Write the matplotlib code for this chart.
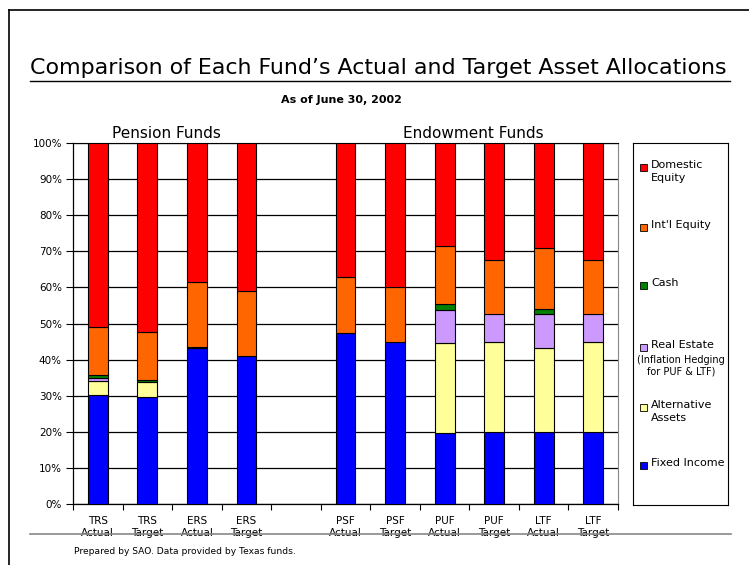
import matplotlib
matplotlib.use("Agg")
import matplotlib.pyplot as plt
import numpy as np
from matplotlib.lines import Line2D
from matplotlib.patches import Rectangle

plt.rcParams['font.family'] = ['DejaVu Sans']

# Fund labels (blank slot separates pension and endowment funds)
funds = ["TRS\nActual", "TRS\nTarget", "ERS\nActual", "ERS\nTarget", "",
         "PSF\nActual", "PSF\nTarget", "PUF\nActual", "PUF\nTarget",
         "LTF\nActual", "LTF\nTarget"]

# Allocation percentages per fund (blank slot = 0)
fixed_income = [30.3, 29.6, 43.1, 41.0, 0, 47.4, 45.0, 19.7, 20.0, 19.9, 20.0]
alternative = [3.9, 4.2, 0.0, 0.0, 0, 0.0, 0.0, 25.0, 25.0, 23.4, 25.0]
real_estate = [0.7, 0.0, 0.0, 0.0, 0, 0.0, 0.0, 9.0, 7.5, 9.3, 7.5]
cash = [0.9, 0.5, 0.4, 0.0, 0, 0.0, 0.0, 1.7, 0.0, 1.5, 0.0]
intl_equity = [13.1, 13.3, 17.9, 18.0, 0, 15.6, 15.0, 16.2, 15.0, 16.7, 15.0]
dom_equity = [51.1, 52.4, 38.6, 41.0, 0, 37.0, 40.0, 28.4, 32.5, 29.2, 32.5]

series = [
    (fixed_income, "#0000FF", "Fixed Income"),
    (alternative, "#FFFF99", "Alternative\nAssets"),
    (real_estate, "#CC99FF", "Real Estate"),
    (cash, "#008000", "Cash"),
    (intl_equity, "#FF6600", "Int'l Equity"),
    (dom_equity, "#FF0000", "Domestic\nEquity"),
]

W, H = 749, 565
fig = plt.figure(figsize=(W / 100, H / 100), dpi=100)

def fx(px):
    return px / W

def fy(py):
    return 1 - py / H

# main axes
ax = fig.add_axes([fx(73), fy(504), fx(618) - fx(73), fy(143) - fy(504)])
x = np.arange(len(funds))
bottom = np.zeros(len(funds))
for vals, color, name in series:
    v = np.array(vals)
    mask = v > 0
    ax.bar(x[mask], v[mask], width=0.4, bottom=bottom[mask], color=color,
           edgecolor="black", linewidth=0.8, zorder=3)
    bottom += v

ax.set_xlim(-0.5, len(funds) - 0.5)
ax.set_ylim(0, 100)
ax.set_yticks(np.arange(0, 101, 10))
ax.set_yticklabels([f"{t}%" for t in range(0, 101, 10)], fontsize=7.5)
ax.yaxis.grid(True, color="black", linewidth=0.9, zorder=0)
ax.set_xticks(x)
ax.set_xticklabels(funds, fontsize=7.5, linespacing=1.25)
ax.tick_params(axis="x", which="major", length=0, pad=9)
ax.set_xticks(np.arange(-0.5, len(funds), 1), minor=True)
ax.tick_params(axis="x", which="minor", length=4, width=0.8, direction="out")
ax.tick_params(axis="y", length=5, width=0.8, pad=3)
for s in ["left", "bottom"]:
    ax.spines[s].set_color("black")
    ax.spines[s].set_linewidth(0.9)
ax.spines["top"].set_color("black")
ax.spines["right"].set_color("#888888")

# group headings
fig.text(fx(166), fy(134), "Pension Funds", ha="center", va="center", fontsize=11)
fig.text(fx(473), fy(134), "Endowment Funds", ha="center", va="center", fontsize=11)

# title and subtitle
fig.text(fx(30), fy(74), "Comparison of Each Fund\u2019s Actual and Target Asset Allocations",
         ha="left", va="baseline", fontsize=15.9)
fig.add_artist(Line2D([fx(30), fx(730)], [fy(81), fy(81)], color="black", lw=1))
fig.text(fx(341), fy(100), "As of June 30, 2002", ha="center", va="center",
         fontsize=8, fontweight="bold")

# frame lines
fig.add_artist(Line2D([fx(9), fx(749)], [fy(10), fy(10)], color="black", lw=1.2))
fig.add_artist(Line2D([fx(9), fx(9)], [fy(10), fy(565)], color="black", lw=1.2))

# footer
fig.add_artist(Line2D([fx(30), fx(731)], [fy(534), fy(534)], color="#888888", lw=1.2))
fig.text(fx(74), fy(552), "Prepared by SAO. Data provided by Texas funds.",
         ha="left", va="center", fontsize=6.6)

# legend box
lax = fig.add_axes([fx(633), fy(505), fx(728) - fx(633), fy(143) - fy(505)])
lax.set_xlim(633, 728)
lax.set_ylim(505, 143)
lax.set_xticks([])
lax.set_yticks([])
for s in lax.spines.values():
    s.set_linewidth(0.8)

legend_rows = [
    ("#FF0000", "Domestic\nEquity", 167),
    ("#FF6600", "Int'l Equity", 227),
    ("#008000", "Cash", 285),
    ("#CC99FF", "Real Estate", 347),
    ("#FFFF99", "Alternative\nAssets", 407),
    ("#0000FF", "Fixed Income", 465),
]
for color, label, yy in legend_rows:
    lax.add_patch(Rectangle((640, yy - 3.5), 7, 7, facecolor=color,
                            edgecolor="black", lw=0.6))
    lax.text(651, yy - 6.5, label, ha="left", va="top", fontsize=8, linespacing=1.3)
lax.text(681, 366, "(Inflation Hedging\nfor PUF & LTF)", ha="center", va="center",
         fontsize=7, linespacing=1.15)

fig.savefig("out.png", dpi=100)
